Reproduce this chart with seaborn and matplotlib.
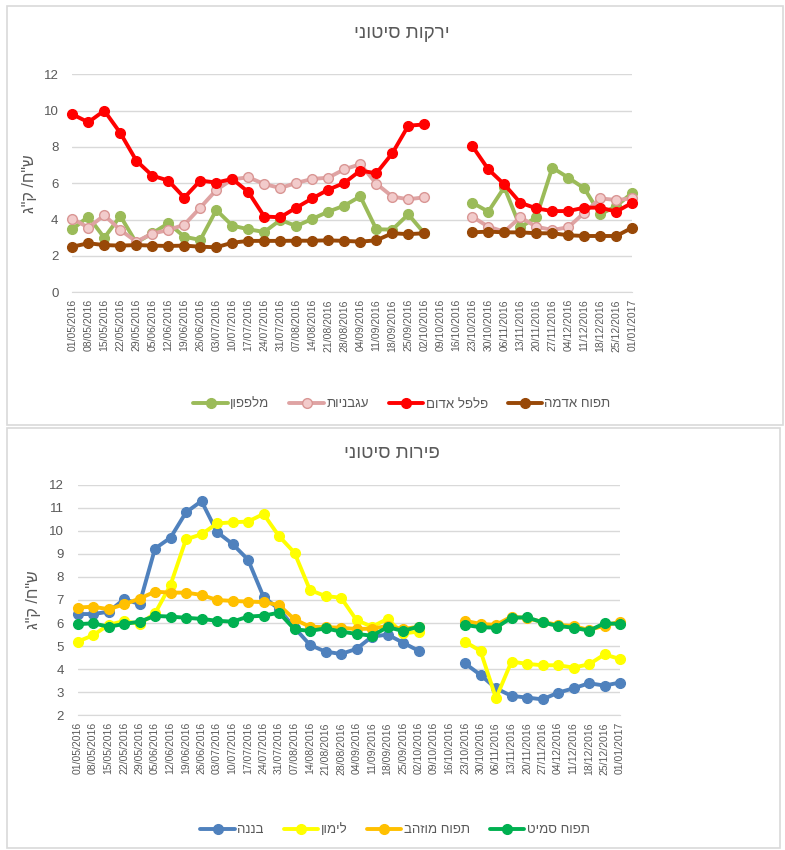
import numpy as np
import pandas as pd
import seaborn as sns
import matplotlib.pyplot as plt
from matplotlib.lines import Line2D
from matplotlib.patches import Rectangle

sns.set_style("white")
plt.rcParams['font.family'] = ['Liberation Sans', 'DejaVu Sans']

# weekly dates, 01/05/2016 .. 01/01/2017
dates = pd.date_range("2016-05-01", periods=36, freq="7D").strftime("%d/%m/%Y").tolist()
nan = np.nan

# vegetables (wholesale), NIS per kg
cucumber = [3.47, 4.17, 3.0, 4.2, 2.73, 3.25, 3.8, 3.06, 2.88, 4.53, 3.67, 3.47, 3.32, 3.98, 3.65, 4.04, 4.44, 4.77,
            5.28, 3.47, 3.45, 4.29, 3.25, nan, nan, 4.93, 4.44, 5.78, 3.58, 4.13, 6.86, 6.31, 5.72, 4.29, 4.75, 5.48]
tomato = [4.06, 3.56, 4.24, 3.43, 2.79, 3.23, 3.43, 3.72, 4.66, 5.63, 6.22, 6.33, 5.96, 5.74, 6.02, 6.24, 6.31, 6.77,
          7.05, 5.98, 5.27, 5.12, 5.23, nan, nan, 4.16, 3.61, 3.34, 4.13, 3.61, 3.43, 3.58, 4.38, 5.17, 5.08, 5.17]
red_pepper = [9.8, 9.36, 10.0, 8.77, 7.25, 6.42, 6.15, 5.21, 6.15, 6.04, 6.24, 5.52, 4.17, 4.13, 4.66, 5.17, 5.65, 6.02,
              6.70, 6.55, 7.65, 9.17, 9.24, nan, nan, 8.05, 6.77, 5.94, 4.93, 4.62, 4.47, 4.47, 4.66, 4.66, 4.44, 4.93]
potato = [2.51, 2.70, 2.6, 2.57, 2.6, 2.57, 2.55, 2.57, 2.51, 2.48, 2.73, 2.83, 2.83, 2.83, 2.84, 2.84, 2.86, 2.83,
          2.79, 2.86, 3.25, 3.2, 3.25, nan, nan, 3.30, 3.34, 3.30, 3.30, 3.25, 3.25, 3.14, 3.1, 3.1, 3.1, 3.56]

# fruit (wholesale)
banana = [6.39, 6.39, 6.49, 7.03, 6.83, 9.23, 9.70, 10.80, 11.29, 9.95, 9.43, 8.75, 7.14, 6.6, 5.8, 5.05, 4.76, 4.66,
          4.88, 5.41, 5.5, 5.15, 4.80, nan, nan, 4.25, 3.75, 3.17, 2.84, 2.77, 2.69, 2.98, 3.17, 3.39, 3.29, 3.42]
lemon = [5.19, 5.47, 5.92, 6.09, 5.96, 6.42, 7.65, 9.63, 9.85, 10.32, 10.37, 10.40, 10.73, 9.77, 9.05, 7.43, 7.17, 7.10,
         6.13, 5.84, 6.18, 5.55, 5.63, nan, nan, 5.19, 4.79, 2.74, 4.33, 4.23, 4.17, 4.17, 4.07, 4.21, 4.64, 4.44]
golden_apple = [6.67, 6.71, 6.60, 6.81, 7.06, 7.36, 7.32, 7.32, 7.22, 7.0, 6.96, 6.93, 6.91, 6.78, 6.16, 5.84, 5.82, 5.80,
                5.74, 5.76, 5.87, 5.74, 5.84, nan, nan, 6.10, 5.96, 5.92, 6.28, 6.21, 6.05, 5.92, 5.87, 5.70, 5.89, 6.06]
smith_apple = [5.95, 5.99, 5.84, 5.96, 6.06, 6.31, 6.28, 6.23, 6.18, 6.10, 6.06, 6.28, 6.32, 6.45, 5.73, 5.66, 5.77, 5.63,
               5.53, 5.45, 5.82, 5.66, 5.84, nan, nan, 5.92, 5.82, 5.80, 6.23, 6.25, 6.03, 5.87, 5.80, 5.67, 5.99, 5.96]


def rtl(s):
    # matplotlib has no bidi, so flip hebrew text for display
    return s[::-1]


veg = [("מלפפון", cucumber, "#9BBB59", "#9BBB59", "#9BBB59"),
       ("עגבניות", tomato, "#DFA3A3", "#F2CBCB", "#D99694"),
       ("פלפל אדום", red_pepper, "#FF0000", "#FF0000", "#FF0000"),
       ("תפוח אדמה", potato, "#984807", "#984807", "#984807")]
fruit = [("בננה", banana, "#4F81BD", "#4F81BD", "#4F81BD"),
         ("לימון", lemon, "#FFFF00", "#FFFF00", "#FFFF00"),
         ("תפוח מוזהב", golden_apple, "#FFC000", "#FFC000", "#FFC000"),
         ("תפוח סמיט", smith_apple, "#00B050", "#00B050", "#00B050")]

fig = plt.figure(figsize=(7.85, 8.5), dpi=100)

# panel frames
fig.patches.append(Rectangle((7/785, 1-425/850), 776/785, 419/850, transform=fig.transFigure,
                             fill=False, edgecolor="#D9D9D9", lw=1.2))
fig.patches.append(Rectangle((7/785, 1-848/850), 773/785, 420/850, transform=fig.transFigure,
                             fill=False, edgecolor="#D9D9D9", lw=1.2))

ax1 = fig.add_axes([72.3/785, 1-292.3/850, 560/785, 218/850])
ax2 = fig.add_axes([77.5/785, 1-715.3/850, 542.5/785, 230.6/850])


def draw(ax, series, ylim, yticks, ylab_x):
    handles = []
    for name, vals, col, mfc, mec in series:
        df = pd.DataFrame({"x": range(len(dates)), "y": vals})
        df["seg"] = np.where(df["x"] < 23, 0, 1)
        df = df.dropna()
        sns.lineplot(data=df, x="x", y="y", units="seg", estimator=None, ax=ax, color=col,
                     lw=2.8, marker="o", markersize=7, markerfacecolor=mfc, markeredgecolor=mec,
                     markeredgewidth=1.0)
        handles.append(Line2D([], [], color=col, lw=2.8, marker="o", markersize=7,
                              markerfacecolor=mfc, markeredgecolor=mec, label=rtl(name)))
    for ln in ax.lines:
        ln.set_clip_on(False)
    ax.set_xlim(0, 35)
    ax.set_ylim(*ylim)
    ax.set_yticks(yticks)
    ax.set_xticks(range(len(dates)))
    ax.set_xticklabels(dates, rotation=90, fontsize=7.5, color="#595959")
    ax.tick_params(axis="y", length=0, labelsize=9.5, labelcolor="#595959", pad=10)
    ax.tick_params(axis="x", length=3, color="#D9D9D9", pad=2)
    ax.grid(axis="y", color="#D9D9D9", lw=1)
    ax.set_axisbelow(True)
    for s in ["top", "right", "left"]:
        ax.spines[s].set_visible(False)
    ax.spines["bottom"].set_color("#D9D9D9")
    ax.set_xlabel("")
    ax.set_ylabel(rtl('ש"ח/ ק"ג'), fontsize=11.5, color="#595959")
    ax.yaxis.set_label_coords(ylab_x, 0.5)
    return handles


h1 = draw(ax1, veg, (0, 12), range(0, 13, 2), -0.063)
h2 = draw(ax2, fruit, (2, 12), range(2, 13), -0.067)

fig.text(402/785, 1-33/850, rtl("ירקות סיטוני"), ha="center", va="center", fontsize=13.5, color="#595959")
fig.text(392/785, 1-453/850, rtl("פירות סיטוני"), ha="center", va="center", fontsize=13.5, color="#595959")

leg_kw = dict(loc="center", ncol=4, frameon=False, fontsize=9.5, handlelength=2.6,
              columnspacing=1.5, handletextpad=0.2, labelcolor="#595959")
fig.legend(handles=h1, bbox_to_anchor=(402/785, 1-404/850), **leg_kw)
fig.legend(handles=h2, bbox_to_anchor=(395/785, 1-830/850), **leg_kw)

fig.savefig("out.png", dpi=100)
